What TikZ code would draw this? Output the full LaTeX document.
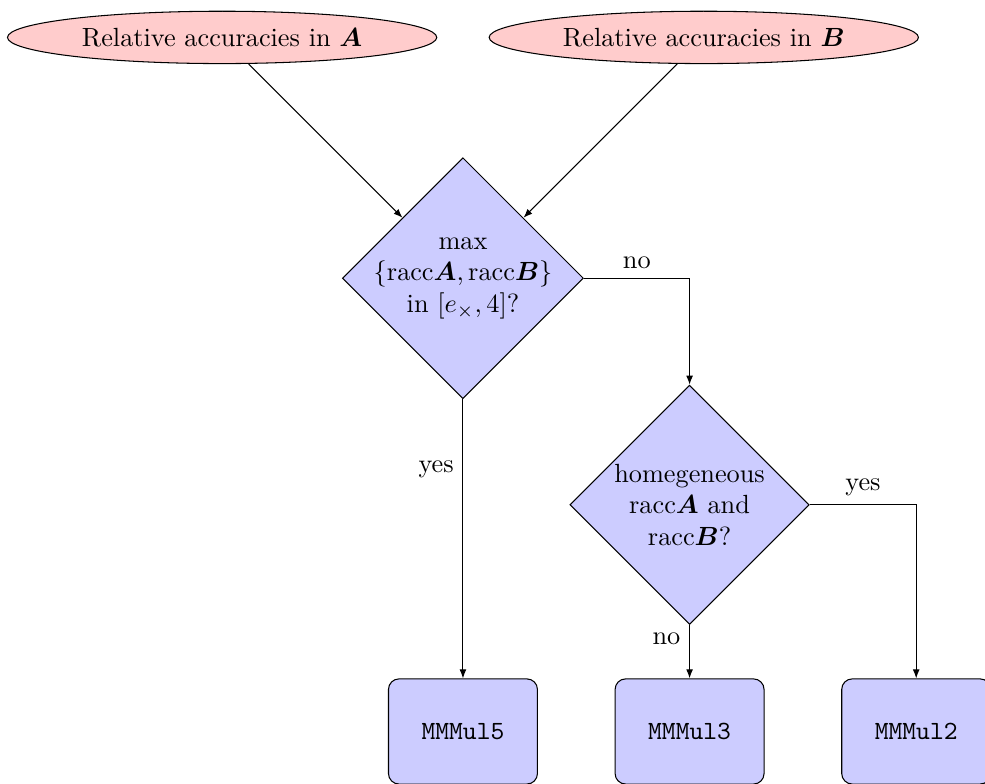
\documentclass[tikz,border=0pt]{standalone}
\usepackage{amsmath,amssymb}
\usepackage{tikz}
\usetikzlibrary{arrows.meta,positioning,shapes.geometric}

\begin{document}
\begin{tikzpicture}[node distance=3.03cm, on grid,
    decision/.style={diamond,draw,fill=blue!20,align=center,
      inner sep=0pt,minimum width=3.2cm,minimum height=3.2cm},
    block/.style={rectangle,draw,fill=blue!20,text width=5em,align=center,
      rounded corners,minimum height=4em},
    cloud/.style={ellipse,draw,fill=red!20,minimum width=5.74cm,minimum height=0.7cm},
    line/.style={draw,-{Latex[length=3.4pt,width=2.6pt]}}]
    \useasboundingbox (-6.19,-6.75) rectangle (6.98,3.72);
    \node[decision,inner sep=-1.8pt] (dmax)
      {max\\$\{\mathrm{racc}\boldsymbol{A},\mathrm{racc}\boldsymbol{B}\}$\\in $[e_{\times},4]$?};
    \node[cloud,above left=3.22cm and 3.22cm of dmax] (ra)
      {Relative accuracies in $\boldsymbol{A}$};
    \node[cloud,above right=3.22cm and 3.22cm of dmax] (rb)
      {Relative accuracies in $\boldsymbol{B}$};
    \node[decision,below right=3.03cm and 3.03cm of dmax] (dhom)
      {homegeneous\\racc$\boldsymbol{A}$ and\\racc$\boldsymbol{B}$?};
    \node[block,below=of dhom] (m3) {\texttt{MMMul3}};
    \node[block,left=of m3] (m5) {\texttt{MMMul5}};
    \node[block,right=of m3] (m2) {\texttt{MMMul2}};
    \path[line] (ra) -- (dmax);
    \path[line] (rb) -- (dmax);
    \path[line] (dmax) -| node[near start,above] {no} (dhom);
    \path[line] (dmax) -- node[near start,left] {yes} (m5);
    \path[line] (dhom) -| node[near start,above] {yes} (m2);
    \path[line] (dhom) -- node[near start,left] {no} (m3);
\end{tikzpicture}
\end{document}
